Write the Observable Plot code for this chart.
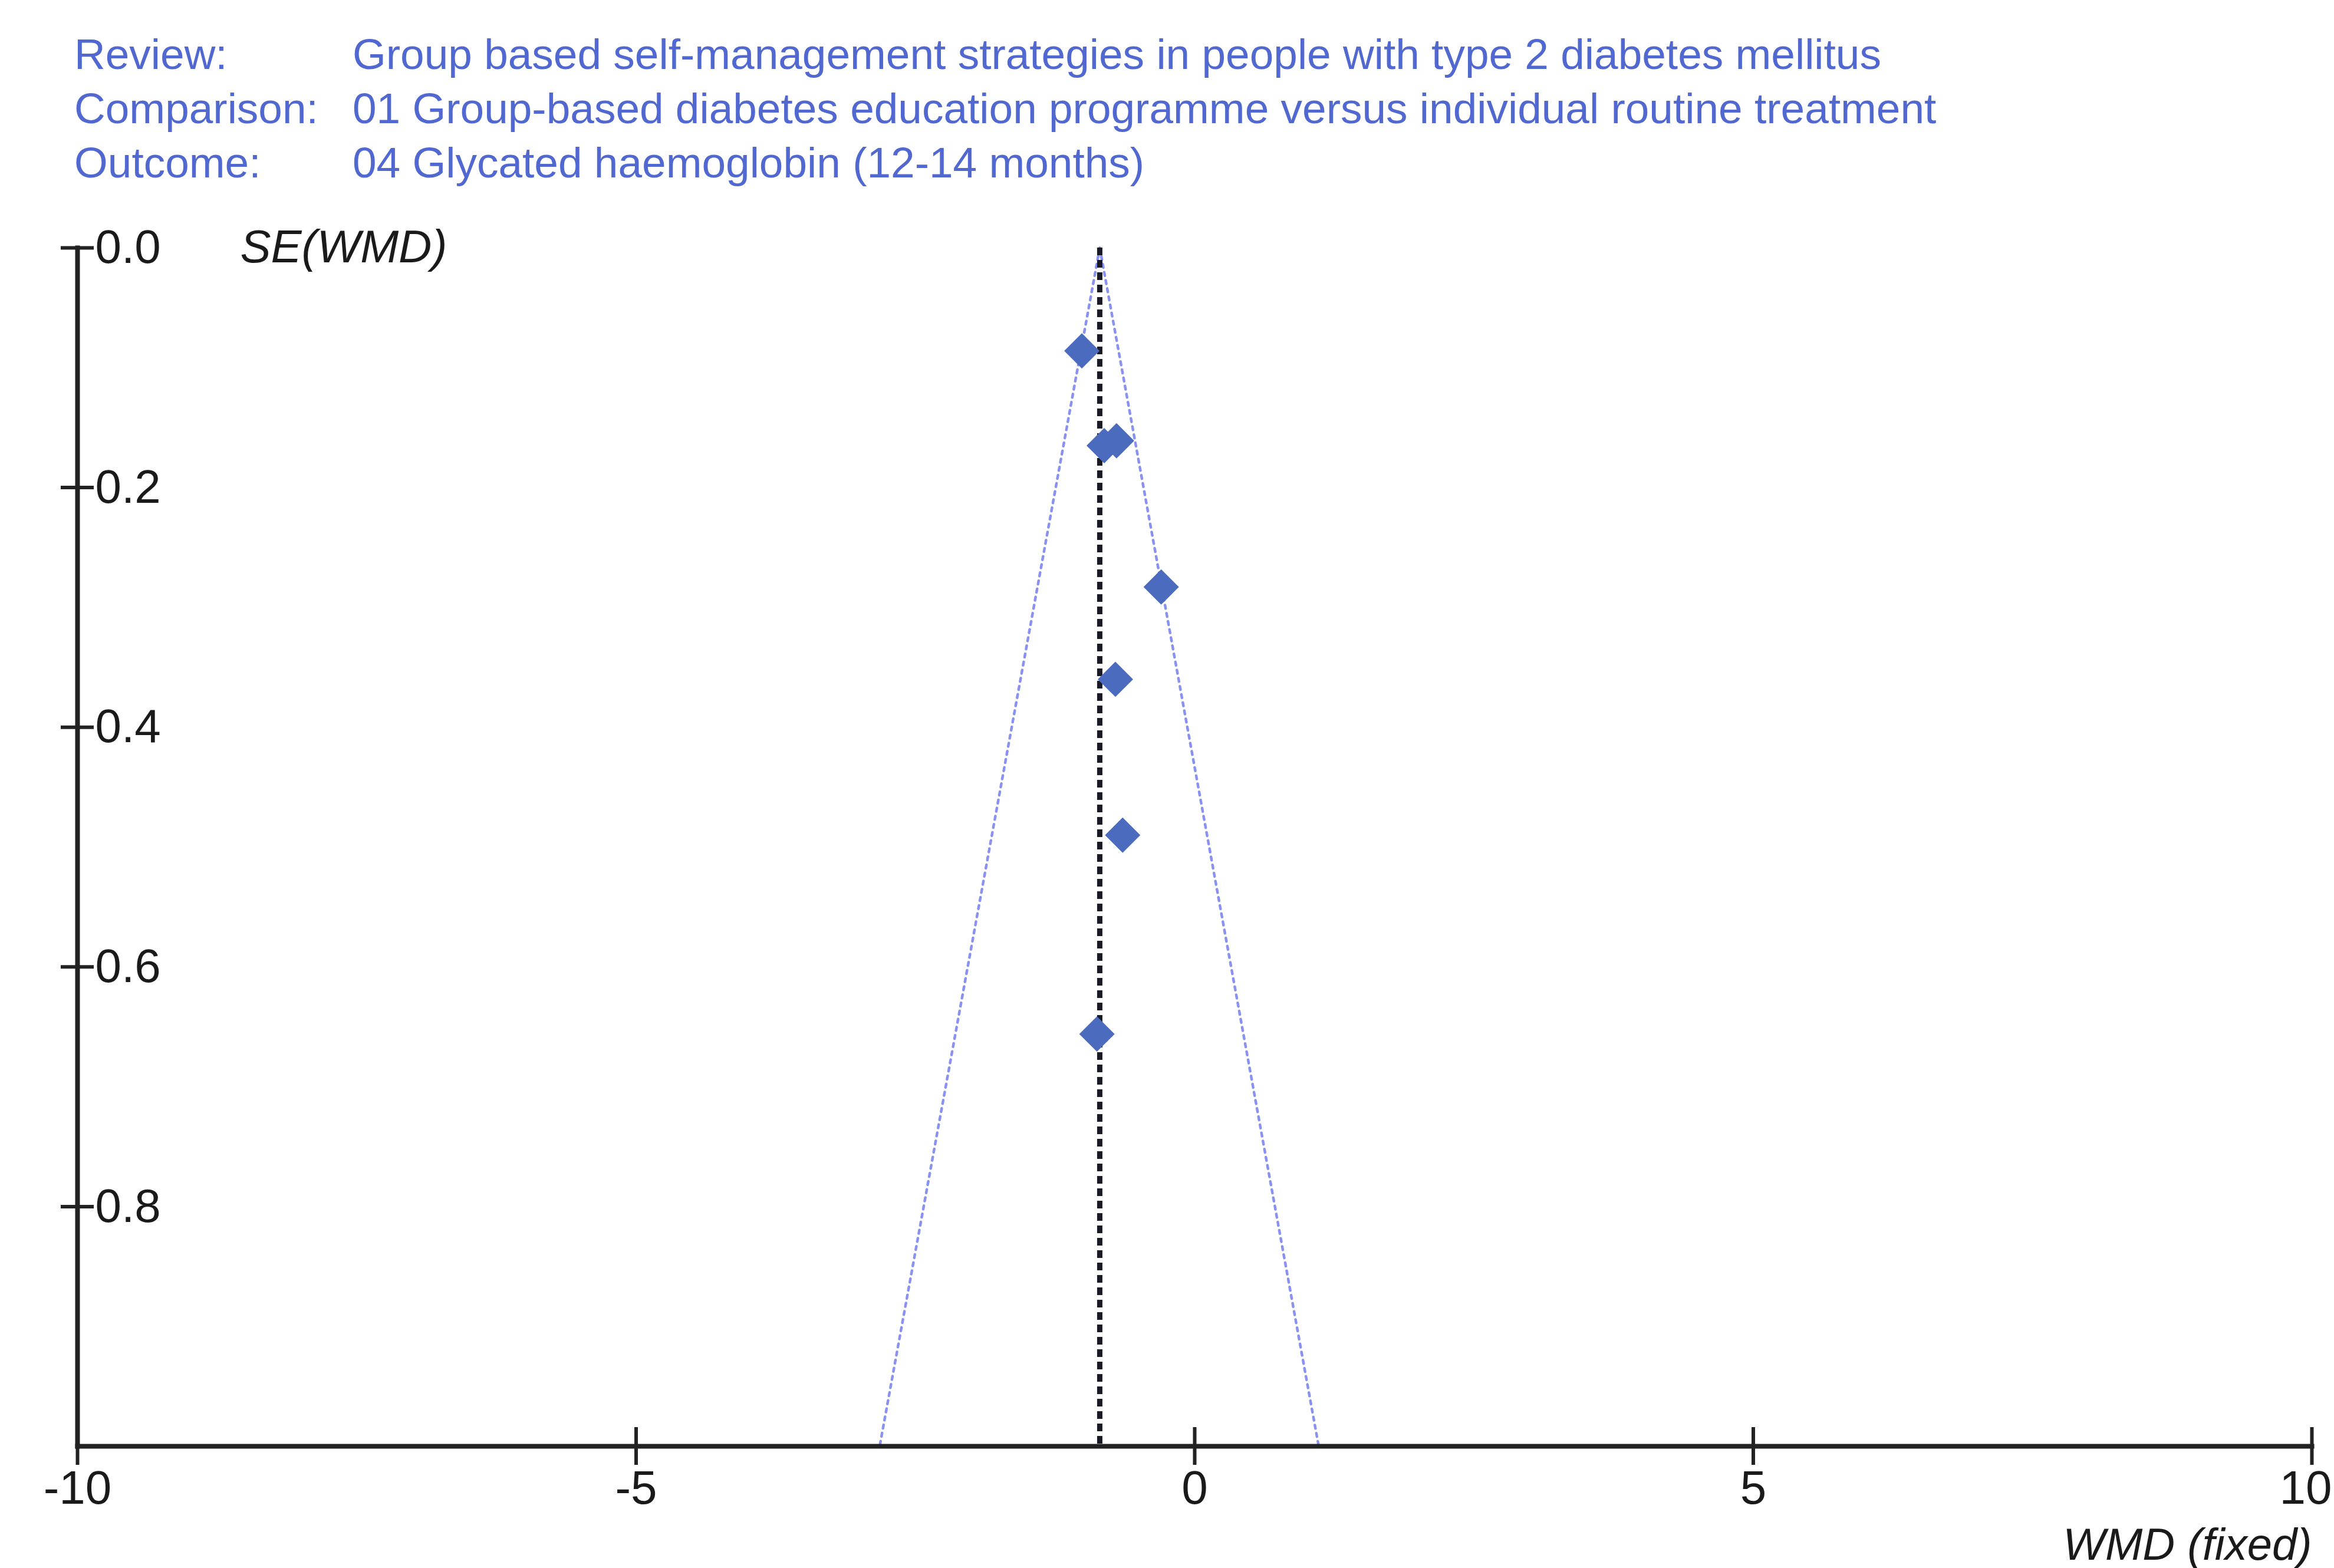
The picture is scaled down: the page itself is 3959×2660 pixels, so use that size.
<!DOCTYPE html>
<html><head><meta charset="utf-8">
<script src="https://cdn.jsdelivr.net/npm/d3@7"></script>
<script src="https://cdn.jsdelivr.net/npm/@observablehq/plot@0.6"></script>
<style>
html,body{margin:0;padding:0;background:#fff;}
body{width:3959px;height:2660px;overflow:hidden;font-family:"Liberation Sans",Arial,sans-serif;}
#header{position:relative;height:350px;}
.hl{position:absolute;font-size:73px;line-height:92px;color:#5068d0;white-space:nowrap;}
</style></head><body>
<div id="header"></div>
<div id="chart"></div>
<script>
// Header texts
const headerLabels = ["Review:", "Comparison:", "Outcome:"];
const headerValues = [
  "Group based self-management strategies in people with type 2 diabetes mellitus",
  "01 Group-based diabetes education programme versus individual routine treatment",
  "04 Glycated haemoglobin (12-14 months)"
];
// Study estimates (WMD) and standard errors
const studyWMD = [-1.01, -0.81, -0.70, -0.30, -0.71, -0.645, -0.875];
const studySE  = [0.086, 0.165, 0.161, 0.283, 0.36, 0.49, 0.656];
// Pooled fixed-effect estimate and funnel limits
const pooledWMD = -0.85;
const funnelSE = [0, 1.0];
const funnelLeftX = [-0.85, -2.82];
const funnelRightX = [-0.85, 1.11];
// Axes
const xTicks = [-10, -5, 0, 5];
const xLastTick = [10];
const yTicks = [0, 0.2, 0.4, 0.6, 0.8];
const xDomain = [-10, 10];
const yDomain = [0, 1.0];

// header
const header = document.getElementById("header");
headerLabels.forEach((lab, i) => {
  const a = document.createElement("div");
  a.className = "hl"; a.textContent = lab;
  a.style.left = "126px"; a.style.top = (46 + i * 92) + "px";
  header.appendChild(a);
  const b = document.createElement("div");
  b.className = "hl"; b.textContent = headerValues[i];
  b.style.left = "598px"; b.style.top = (46 + i * 92) + "px";
  header.appendChild(b);
});

const points = studyWMD.map((x, i) => ({x, y: studySE[i]}));
const leftFunnel = funnelSE.map((s, i) => ({x: funnelLeftX[i], y: s}));
const rightFunnel = funnelSE.map((s, i) => ({x: funnelRightX[i], y: s}));

const diamond = d3.symbolDiamond2 || {
  draw(ctx, size) { const r = Math.sqrt(size) * 0.62625; ctx.moveTo(0,-r); ctx.lineTo(r,0); ctx.lineTo(0,r); ctx.lineTo(-r,0); ctx.closePath(); }
};

const funnelStyle = {x: "x", y: "y", stroke: "#8a92f0", strokeWidth: 4.5, strokeDasharray: "6,8"};
const blank = () => "";
const plain = d => String(d);

const plot = Plot.plot({
  width: 3959,
  height: 2310,
  marginTop: 70,
  marginBottom: 207,
  marginLeft: 131,
  marginRight: 38,
  style: {fontFamily: "'Liberation Sans', Arial, sans-serif", background: "white", color: "#222", overflow: "visible"},
  x: {domain: xDomain},
  y: {domain: yDomain, reverse: true},
  marks: [
    Plot.line(leftFunnel, funnelStyle),
    Plot.line(rightFunnel, funnelStyle),
    Plot.ruleX([pooledWMD], {y1: funnelSE[0], y2: funnelSE[1], stroke: "#1a1a26", strokeWidth: 9, strokeDasharray: "13,8"}),
    Plot.frame({anchor: "left", strokeWidth: 8, stroke: "#222"}),
    Plot.frame({anchor: "bottom", strokeWidth: 8, stroke: "#222"}),
    Plot.axisY(yTicks, {anchor: "left", tickSize: 56, dx: 28, strokeWidth: 6, stroke: "#222", tickFormat: blank, label: null}),
    Plot.axisY(yTicks, {anchor: "left", tickSize: 0, tickPadding: 0, dx: 30, textAnchor: "start", tickFormat: d3.format(".1f"), fontSize: 80, fill: "#1a1a1a", label: null}),
    Plot.axisX([...xTicks, ...xLastTick], {anchor: "bottom", tickSize: 64, dy: -32, strokeWidth: 6, stroke: "#222", tickFormat: blank, label: null}),
    Plot.axisX(xTicks, {anchor: "bottom", tickSize: 0, tickPadding: 72, lineAnchor: "middle", fontSize: 80, fill: "#1a1a1a", tickFormat: plain, label: null}),
    Plot.axisX(xLastTick, {anchor: "bottom", tickSize: 0, tickPadding: 72, lineAnchor: "middle", textAnchor: "end", dx: 34, fontSize: 80, fill: "#1a1a1a", tickFormat: plain, label: null}),
    Plot.dot(points, {x: "x", y: "y", symbol: diamond, r: 27, fill: "#4b6bbf", stroke: "none"}),
    Plot.text(["SE(WMD)"], {frameAnchor: "top-left", dx: 276, textAnchor: "start", lineAnchor: "middle", fontStyle: "italic", fontSize: 78, fill: "#1a1a1a"}),
    Plot.text(["WMD (fixed)"], {frameAnchor: "bottom-right", dy: 168, textAnchor: "end", lineAnchor: "middle", fontStyle: "italic", fontSize: 76, fill: "#1a1a1a"})
  ]
});
document.getElementById("chart").appendChild(plot);
</script>
</body></html>
